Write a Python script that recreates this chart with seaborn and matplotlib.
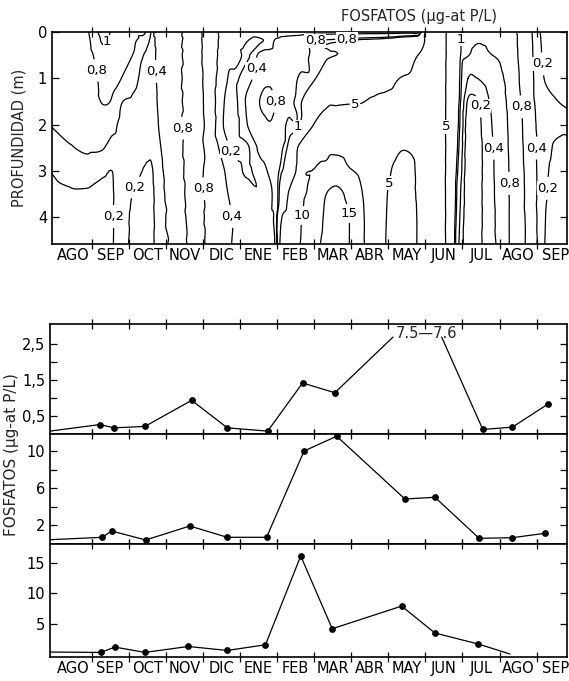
import numpy as np
import pandas as pd
import matplotlib
matplotlib.use("Agg")
import matplotlib.pyplot as plt
import matplotlib.ticker as mticker
import matplotlib.tri as mtri
import seaborn as sns

# ---------------- data ----------------
months = ['AGO', 'SEP', 'OCT', 'NOV', 'DIC', 'ENE', 'FEB', 'MAR', 'ABR',
          'MAY', 'JUN', 'JUL', 'AGO', 'SEP']

# isoline field (time in months from start of AGO, depth in m)
grid_time = [-0.15, 0.4, 0.9, 1.3, 1.55, 1.8, 2.1, 2.45, 2.6, 2.8,
             3.2, 3.7, 4.2, 4.55, 4.85, 5.2, 5.55, 5.8, 5.95, 6.1,
             6.3, 6.6, 7.0, 7.35, 7.6, 7.9, 8.25, 8.6, 8.95, 9.3,
             9.6, 9.8, 10.0, 10.25, 10.5, 10.75, 10.95, 11.15, 11.4, 11.7,
             12.0, 12.3, 12.6, 12.9, 13.2, 13.5, 13.85]
grid_depth = [0, 0.2, 0.5, 1, 1.5, 2, 2.5, 3, 3.5, 4, 4.6]

fosf_d00 = [0.62, 0.70, 0.79, 1.08, 0.98, 0.90, 0.86, 0.81, 0.40, 0.50,
            0.62, 0.95, 0.60, 0.33, 0.30, 0.25, 0.25, 0.22, 0.25, 0.30,
            0.30, 0.30, 0.30, 0.30, 0.30, 0.30, 0.30, 0.30, 0.30, 0.30,
            0.30, 0.30, 4.80, 6.00, 5.80, 2.50, 1.05, 0.95, 0.90, 0.88,
            0.90, 0.95, 0.65, 0.38, 0.15, 0.10, 0.08]
fosf_d02 = [0.61, 0.69, 0.77, 1.02, 0.95, 0.88, 0.84, 0.60, 0.35, 0.49,
            0.62, 0.95, 0.60, 0.32, 0.29, 0.20, 0.19, 0.25, 0.45, 0.50,
            0.55, 0.60, 0.82, 0.90, 0.95, 1.00, 1.20, 1.30, 1.50, 2.00,
            2.50, 3.00, 5.20, 6.00, 5.80, 2.45, 1.02, 0.90, 0.82, 0.84,
            0.87, 0.94, 0.68, 0.39, 0.16, 0.11, 0.09]
fosf_d05 = [0.60, 0.67, 0.74, 0.92, 0.90, 0.86, 0.80, 0.36, 0.30, 0.48,
            0.62, 0.95, 0.60, 0.30, 0.27, 0.18, 0.50, 0.55, 0.56, 0.60,
            0.62, 0.70, 0.85, 0.95, 1.00, 1.10, 1.60, 1.80, 2.20, 3.00,
            3.80, 5.00, 5.60, 6.00, 5.80, 2.40, 1.00, 0.82, 0.70, 0.78,
            0.83, 0.92, 0.70, 0.40, 0.17, 0.12, 0.10]
fosf_d10 = [0.56, 0.62, 0.68, 0.86, 0.85, 0.80, 0.50, 0.32, 0.28, 0.46,
            0.62, 0.95, 0.60, 0.24, 0.18, 0.30, 0.62, 0.72, 0.70, 0.66,
            0.68, 0.82, 0.95, 1.60, 2.00, 2.20, 2.60, 3.00, 4.00, 5.00,
            5.30, 5.40, 5.80, 6.00, 5.80, 2.20, 0.90, 0.40, 0.40, 0.55,
            0.72, 0.90, 0.74, 0.42, 0.20, 0.15, 0.12]
fosf_d15 = [0.50, 0.55, 0.60, 0.82, 0.76, 0.42, 0.36, 0.30, 0.27, 0.43,
            0.61, 0.95, 0.60, 0.21, 0.17, 0.46, 0.82, 0.92, 0.80, 0.68,
            0.72, 0.92, 1.80, 4.20, 4.50, 4.70, 4.80, 5.50, 5.60, 5.60,
            5.60, 5.60, 5.80, 5.90, 5.80, 2.00, 0.80, 0.18, 0.18, 0.38,
            0.62, 0.88, 0.78, 0.43, 0.28, 0.21, 0.18]
fosf_d20 = [0.40, 0.48, 0.52, 0.60, 0.50, 0.34, 0.30, 0.27, 0.26, 0.40,
            0.60, 0.95, 0.62, 0.20, 0.15, 0.40, 0.65, 0.78, 0.72, 0.70,
            0.85, 1.00, 5.20, 7.00, 7.20, 7.00, 6.50, 6.50, 6.00, 5.40,
            5.30, 5.40, 5.70, 5.80, 5.80, 1.90, 0.70, 0.13, 0.16, 0.33,
            0.58, 0.86, 0.82, 0.45, 0.32, 0.25, 0.22]
fosf_d25 = [0.30, 0.38, 0.44, 0.42, 0.30, 0.30, 0.27, 0.23, 0.23, 0.36,
            0.58, 0.95, 0.64, 0.30, 0.16, 0.18, 0.50, 0.60, 0.66, 0.74,
            1.10, 6.00, 7.50, 9.00, 9.20, 8.80, 8.00, 7.00, 5.80, 5.10,
            5.10, 5.30, 5.60, 5.70, 5.80, 1.80, 0.60, 0.12, 0.15, 0.30,
            0.55, 0.85, 0.84, 0.48, 0.30, 0.18, 0.17]
fosf_d30 = [0.20, 0.26, 0.30, 0.22, 0.20, 0.27, 0.24, 0.19, 0.18, 0.32,
            0.55, 0.94, 0.66, 0.42, 0.28, 0.18, 0.30, 0.45, 0.62, 0.90,
            1.50, 7.50, 10.2, 11.0, 12.0, 10.5, 9.30, 7.20, 5.40, 4.60,
            4.70, 5.20, 5.50, 5.60, 5.80, 1.60, 0.50, 0.12, 0.15, 0.30,
            0.52, 0.84, 0.86, 0.50, 0.26, 0.15, 0.14]
fosf_d35 = [0.16, 0.18, 0.18, 0.17, 0.19, 0.26, 0.20, 0.15, 0.16, 0.30,
            0.52, 0.93, 0.68, 0.46, 0.34, 0.30, 0.22, 0.33, 0.55, 1.30,
            5.00, 8.50, 11.5, 15.2, 16.5, 14.0, 10.5, 7.50, 5.10, 4.30,
            4.50, 5.20, 5.40, 5.50, 5.80, 1.50, 0.40, 0.12, 0.15, 0.30,
            0.50, 0.84, 0.87, 0.52, 0.24, 0.14, 0.12]
fosf_d40 = [0.13, 0.15, 0.15, 0.14, 0.19, 0.25, 0.18, 0.13, 0.15, 0.30,
            0.48, 0.92, 0.70, 0.50, 0.38, 0.34, 0.30, 0.36, 0.50, 4.00,
            7.50, 9.50, 12.5, 16.0, 17.2, 15.5, 11.0, 7.80, 5.00, 4.20,
            4.40, 5.10, 5.40, 5.40, 5.90, 1.40, 0.35, 0.12, 0.15, 0.30,
            0.48, 0.84, 0.87, 0.55, 0.22, 0.13, 0.11]
fosf_d46 = [0.12, 0.13, 0.13, 0.13, 0.19, 0.25, 0.17, 0.12, 0.15, 0.30,
            0.45, 0.90, 0.72, 0.55, 0.37, 0.36, 0.35, 0.38, 0.45, 7.00,
            8.50, 9.90, 13.5, 16.5, 17.5, 15.6, 11.0, 8.00, 4.90, 4.10,
            4.30, 5.10, 5.40, 5.40, 6.00, 1.30, 0.30, 0.12, 0.15, 0.30,
            0.46, 0.84, 0.87, 0.56, 0.21, 0.12, 0.10]
contour_levels = [0.2, 0.4, 0.8, 1, 5, 10, 15]

# series (first value = line entering from the left edge)
surf_time = [-0.12, 1.22, 1.61, 2.44, 3.70, 4.66, 5.75, 6.69, 7.56, 9.13, 10.44, 11.55, 12.35, 13.31]
surf_vals = [0.08, 0.26, 0.17, 0.21, 0.93, 0.17, 0.08, 1.41, 1.14, 7.5, 7.6, 0.125, 0.19, 0.83]

mid_time = [-0.12, 1.29, 1.54, 2.46, 3.65, 4.66, 5.72, 6.73, 7.61, 9.45, 10.26, 11.45, 12.35, 13.22]
mid_vals = [0.41, 0.67, 1.35, 0.38, 1.89, 0.67, 0.67, 10.0, 11.6, 4.81, 5.0, 0.56, 0.63, 1.1]

bot_time = [-0.12, 1.25, 1.63, 2.44, 3.61, 4.66, 5.69, 6.64, 7.49, 9.36, 10.26, 11.43, 12.28]
bot_vals = [0.39, 0.33, 1.2, 0.33, 1.3, 0.65, 1.58, 16.1, 4.2, 7.9, 3.5, 1.7, 0.07]

# ---------------- style ----------------
sns.set_style("ticks")
plt.rcParams["font.family"] = ["DejaVu Sans"]
plt.rcParams["axes.linewidth"] = 1.2
plt.rcParams["axes.edgecolor"] = "black"
plt.rcParams["xtick.color"] = "black"
plt.rcParams["ytick.color"] = "black"

W, H = 569, 681
fig = plt.figure(figsize=(W / 100, H / 100), dpi=100)


def px_axes(left, top, right, bottom):
    return fig.add_axes([left / W, 1 - bottom / H, (right - left) / W, (bottom - top) / H])


def comma(v):
    return f"{v:g}".replace('.', ',')


def month_axis(ax, lo, hi, labels):
    ax.set_xlim(lo, hi)
    ax.xaxis.set_major_locator(mticker.FixedLocator(np.arange(1, 14)))
    ax.xaxis.set_major_formatter(mticker.NullFormatter())
    ax.xaxis.set_minor_locator(mticker.FixedLocator(np.arange(14) + 0.5))
    if labels:
        ax.xaxis.set_minor_formatter(mticker.FixedFormatter(months))
    else:
        ax.xaxis.set_minor_formatter(mticker.NullFormatter())
    ax.tick_params(axis='x', which='minor', length=0, labelsize=10.5, pad=3)
    ax.tick_params(axis='x', which='major', direction='inout', length=7, width=0.9,
                   top=True, bottom=True)


# ---------------- top: isolines ----------------
ax0 = px_axes(52, 32, 567, 244)
Z = np.array([fosf_d00, fosf_d02, fosf_d05, fosf_d10, fosf_d15, fosf_d20,
              fosf_d25, fosf_d30, fosf_d35, fosf_d40, fosf_d46])
TT, DD = np.meshgrid(grid_time, grid_depth)
tri = mtri.Triangulation(TT.ravel(), DD.ravel())
logz = np.log(Z.ravel())
refiner = mtri.UniformTriRefiner(tri)
tri_f, logz_f = refiner.refine_field(logz, subdiv=3,
                                     triinterpolator=mtri.CubicTriInterpolator(tri, logz, kind='geom'))
cs = ax0.tricontour(tri_f, np.exp(logz_f), levels=contour_levels,
                    colors='black', linewidths=0.9)
label_spots = [(1.36, 0.2), (1.45, 0.81), (2.62, 0.85), (3.45, 2.08), (3.9, 3.38),
               (2.12, 3.34), (1.49, 3.99), (4.73, 3.99), (4.73, 2.59), (5.4, 0.79),
               (5.9, 1.5), (6.57, 2.05), (6.64, 3.96), (7.92, 3.92), (8.1, 1.61),
               (7.02, 0.16), (7.88, 0.17), (9.05, 3.27), (10.44, 2.05), (11.07, 0.17),
               (11.38, 1.61), (11.83, 2.51), (12.33, 3.27), (12.69, 1.61), (13.05, 2.51),
               (13.27, 0.68), (13.45, 3.38)]
labels = ax0.clabel(cs, fmt=comma, fontsize=9.5, inline=True, inline_spacing=1,
                    manual=label_spots)
for txt in labels:
    txt.set_rotation(0)
    txt.set_bbox(dict(facecolor='white', edgecolor='none', pad=0.3))
ax0.set_ylim(4.58, 0)
month_axis(ax0, -0.07, 13.82, True)
ax0.set_yticks([0, 1, 2, 3, 4])
ax0.set_yticklabels(['0', '1', '2', '3', '4'])
ax0.tick_params(axis='y', direction='in', length=5, width=0.9, labelsize=10.5,
                left=True, right=True)
ax0.set_ylabel('PROFUNDIDAD (m)', fontsize=10.5, labelpad=8)
ax0.set_xlabel('')
fig.text(419 / W, 1 - 16 / H, 'FOSFATOS (µg-at P/L)', ha='center', va='center', fontsize=10.5)

# ---------------- bottom: series ----------------
ax1 = px_axes(50, 324, 567, 434)
ax2 = px_axes(50, 434, 567, 543.5)
ax3 = px_axes(50, 543.5, 567, 657)

# panel 1 (values above the frame are drawn to its top and written out)
top1 = 2.68
p1_plot = [min(v, top1) for v in surf_vals]
seg1 = [0 if i <= 9 else 1 for i in range(len(surf_vals))]
df1 = pd.DataFrame({'t': surf_time, 'v': p1_plot, 'seg': seg1})
sns.lineplot(data=df1, x='t', y='v', units='seg', estimator=None, sort=False,
             color='black', lw=0.9, ax=ax1, legend=False)
mk1 = [i for i in range(1, len(surf_vals)) if surf_vals[i] <= top1]
sns.scatterplot(x=[surf_time[i] for i in mk1], y=[surf_vals[i] for i in mk1],
                color='black', s=24, linewidth=0, ax=ax1, zorder=3, legend=False)
ax1.text(surf_time[9] + 0.07, 2.79, f"{surf_vals[9]}—{surf_vals[10]}",
         ha='left', va='center', fontsize=10.5)
ax1.set_ylim(0, 3.04)
ax1.set_yticks([0.5, 1.5, 2.5])
ax1.set_yticklabels([comma(v) for v in [0.5, 1.5, 2.5]])
ax1.set_yticks([1.0, 2.0], minor=True)

# panel 2
df2 = pd.DataFrame({'t': mid_time, 'v': mid_vals})
sns.lineplot(data=df2, x='t', y='v', estimator=None, sort=False,
             color='black', lw=0.9, ax=ax2, legend=False)
sns.scatterplot(x=mid_time[1:], y=mid_vals[1:], color='black', s=24,
                linewidth=0, ax=ax2, zorder=3, legend=False, clip_on=False)
ax2.set_ylim(0, 11.84)
ax2.set_yticks([2, 6, 10])
ax2.set_yticklabels(['2', '6', '10'])
ax2.set_yticks([4, 8], minor=True)

# panel 3
df3 = pd.DataFrame({'t': bot_time, 'v': bot_vals})
sns.lineplot(data=df3, x='t', y='v', estimator=None, sort=False,
             color='black', lw=0.9, ax=ax3, legend=False)
sns.scatterplot(x=bot_time[1:-1], y=bot_vals[1:-1], color='black', s=24,
                linewidth=0, ax=ax3, zorder=3, legend=False)
ax3.set_ylim(-0.42, 18.14)
ax3.set_yticks([5, 10, 15])
ax3.set_yticklabels(['5', '10', '15'])

for ax, lab in [(ax1, False), (ax2, False), (ax3, True)]:
    month_axis(ax, -0.12, 13.82, lab)
    ax.tick_params(axis='y', which='both', direction='in', length=5, width=0.9,
                   labelsize=10.5, left=True, right=True)
    ax.set_xlabel('')
    ax.set_ylabel('')

fig.text(12 / W, 1 - 455 / H, 'FOSFATOS (µg-at P/L)', rotation=90,
         ha='center', va='center', fontsize=11)

fig.savefig('out.png', dpi=100)
